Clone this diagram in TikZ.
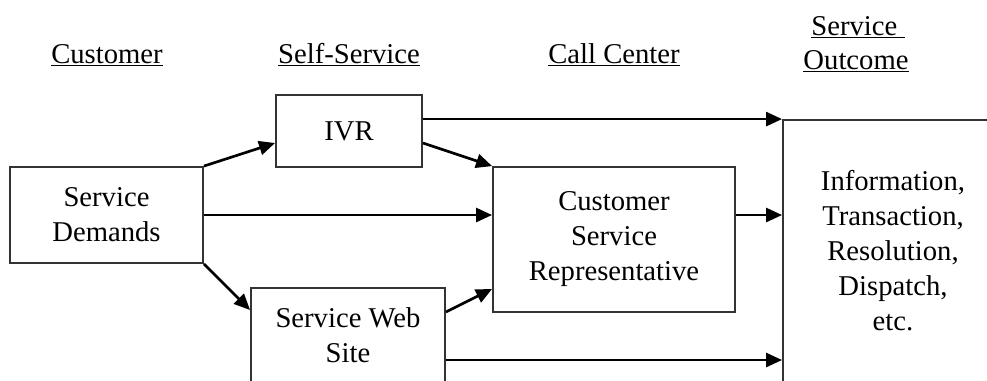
\documentclass[tikz,border=0pt]{standalone}
\usepackage{fontspec}
\setmainfont{Liberation Serif}
\usetikzlibrary{arrows.meta,calc}
\begin{document}
\begin{tikzpicture}[x=0.75pt,y=-0.75pt,
  every node/.style={font=\fontsize{21.5pt}{26.25pt}\selectfont},
  box/.style={draw=black!80,line width=1.4pt,rectangle,align=center,inner sep=0pt},
  head/.style={align=center,inner sep=0pt},
  flow/.style={line width=2pt,-{Triangle[length=12pt,width=10.5pt]}}]
\useasboundingbox (0,0) rectangle (987,380);
\clip (0,0) rectangle (987,380);

% column headings
\node[head,anchor=base] (hcust) at (107,63) {\underline{Customer}};
\node[head,anchor=base] (hself) at (349,63) {\underline{Self-Service}};
\node[head,anchor=base] (hcall) at (614,63) {\underline{Call Center}};
\node[head,anchor=base] (hout1) at (858,35) {\underline{Service\ }};
\node[head,anchor=base] (hout2) at (856,69) {\underline{Outcome}};

% boxes
\node[box,minimum width=193*0.75pt,minimum height=96*0.75pt] (dem) at (106.5,215) {Service\\Demands};
\node[box,minimum width=146*0.75pt,minimum height=72*0.75pt] (ivr) at (349,131) {IVR};
\node[box,minimum width=194*0.75pt,minimum height=94*0.75pt] (web) at (348,335) {Service Web\\Site};
\node[box,minimum width=242*0.75pt,minimum height=145*0.75pt] (csr) at (614,239.5) {Customer\\Service\\Representative};
\node[box,minimum width=220*0.75pt,minimum height=262*0.75pt] (out) at (893,251)
  {Information,\\Transaction,\\Resolution,\\Dispatch,\\etc.};

% connectors
\draw[flow] (dem.north east) -- ($(ivr.west)+(0,12)$);
\draw[flow] (ivr.east |- out.north) -- (out.north west);
\draw[flow] ($(ivr.east)+(0,12)$) -- (csr.north west);
\draw[flow] (dem.east) -- (dem.east -| csr.west);
\draw[flow] (dem.south east) -- ($(web.west)+(0,-25)$);
\draw[flow] ($(web.east)+(0,-23)$) -- ($(csr.south west)+(0,-24)$);
\draw[flow] ($(web.east)+(0,25)$) coordinate (wlow) -- (wlow -| out.west);
\draw[flow] (csr.east |- dem.east) -- (out.west |- dem.east);
\end{tikzpicture}
\end{document}
